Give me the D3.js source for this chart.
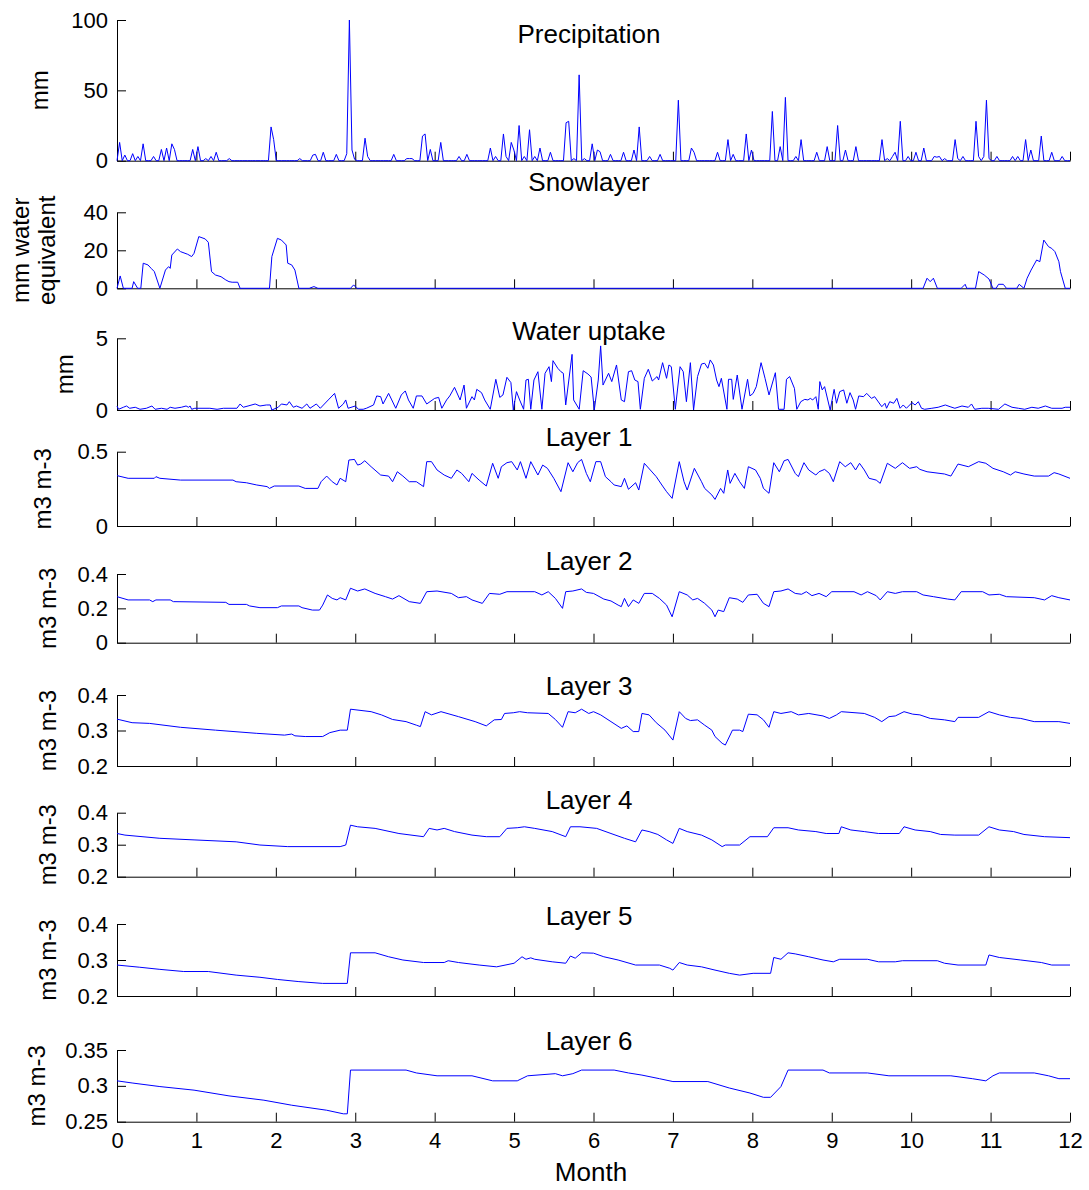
<!DOCTYPE html>
<html>
<head>
<meta charset="utf-8">
<script src="https://cdn.jsdelivr.net/npm/d3@7"></script>
<style>
  body { margin: 0; background: #fff; }
  svg { display: block; font-family: "Liberation Sans", Arial, sans-serif; }
</style>
</head>
<body>
<svg></svg>
<script>
// Figure size.
var width = 1089,
    height = 1190;

var svg = d3.select("svg")
    .attr("width", width)
    .attr("height", height);

// Month ticks along the shared x axis.
var monthTicks = d3.range(0, 13);

// Precipitation: [day of year, mm] for the rainy days, other days are dry.
var rainDays = [
  [1,13],[3,4],[6,5],[8,3],[10,12],[14,3],[17,8],[19,9],[21,12],[22,8],[29,8],[31,10],
  [34,1.5],[36,3],[38,6],[43,1.5],[59,24],[60,15],[70,1.5],[75,4],[76,4.5],[79,6],[84,4.5],
  [88,5],[89,100],[90,7.6],[91,1],[95,16],[96,3],[106,4.5],[111,1.5],[112,1.5],[113,1.5],
  [117,17.5],[118,19],[120,8],[124,13],[131,3],[134,4.5],[143,9],[145,3],[148,19],[149,3],
  [151,13],[152,7.6],[154,25],[156,3],[158,22],[160,3],[162,9],[166,6],[172,27],[173,28],
  [175,1.5],[177,61],[179,1.5],[182,12],[184,7.6],[185,6.4],[189,4.5],[194,6],[198,7.6],
  [200,24],[204,3],[208,4.5],[215,43],[220,9],[221,6],[230,6],[234,15],[236,4.5],[241,19],
  [243,7.6],[251,35],[254,10],[256,45],[260,3],[262,15],[268,6],[272,10],[276,25],[279,7.6],
  [283,10],[293,15],[295,1.5],[297,3],[298,6],[300,28],[303,3],[306,6],[309,9],[313,3],
  [314,2.5],[315,3],[317,1.5],[321,15],[322,1.5],[324,3],[329,28],[330,3],[332,3],[333,43],
  [334,1.5],[337,3],[343,3],[345,3],[348,15],[350,7.6],[354,17.5],[358,6],[362,3]
];

// Snow layer, [month, mm water equivalent].
var snow = [
  [0,0],[0.04,6.5],[0.08,0],[0.19,0],[0.21,3.5],[0.26,0],[0.30,0],[0.33,13.2],[0.39,12.3],
  [0.43,10.5],[0.47,8.8],[0.54,0],[0.61,9.6],[0.65,11.4],[0.67,10.5],[0.69,17.5],[0.76,20.7],
  [0.80,19.3],[0.89,17.9],[0.94,16.7],[0.97,18.4],[1.03,27.2],[1.11,26],[1.15,24.2],
  [1.19,8.8],[1.24,7],[1.31,6.1],[1.37,4.4],[1.41,3.5],[1.45,3.2],[1.52,3.2],[1.55,0],
  [1.92,0],[1.95,16.7],[2.02,26.3],[2.07,25.4],[2.13,22.8],[2.15,13.2],[2.20,12.3],
  [2.24,9.6],[2.29,0],[2.42,0],[2.48,0.9],[2.53,0],[2.94,0],[2.98,1.8],[3.02,0],
  [10.15,0],[10.20,5.3],[10.24,3.5],[10.28,5.3],[10.33,0],[10.63,0],[10.68,2.1],[10.70,0],
  [10.81,0],[10.85,8.8],[10.92,7],[10.98,4.9],[11.03,0],[11.07,0],[11.10,2.1],[11.16,2.1],
  [11.20,0],[11.33,0],[11.36,2.1],[11.42,0],[11.46,5.3],[11.51,9.6],[11.58,14.9],[11.62,14],
  [11.67,25.4],[11.73,21.9],[11.77,21],[11.81,19.3],[11.86,14],[11.88,8.8],[11.94,0],[12,0]
];

// Water uptake, [month, mm].
var uptake = [
  [0,0.28],[0.02,0.05],[0.08,0.19],[0.12,0.28],[0.16,0.12],[0.23,0.19],[0.29,0.05],
  [0.37,0.12],[0.44,0.28],[0.48,0.05],[0.56,0.12],[0.63,0.05],[0.67,0.19],[0.73,0.12],
  [0.81,0.19],[0.87,0.28],[0.90,0.19],[0.92,0.28],[0.94,0.05],[0.98,0.12],[1.17,0.12],
  [1.26,0.05],[1.34,0.12],[1.51,0.12],[1.55,0.42],[1.59,0.19],[1.65,0.28],[1.74,0.42],
  [1.80,0.28],[1.88,0.35],[1.93,0.35],[1.95,0],[2.03,0.19],[2.07,0.42],[2.14,0.35],
  [2.17,0.58],[2.22,0.19],[2.26,0.28],[2.33,0.12],[2.39,0.42],[2.43,0.12],[2.51,0.42],
  [2.56,0.12],[2.66,0.7],[2.74,1.16],[2.79,0.12],[2.85,0.42],[2.88,0.7],[2.91,0.12],
  [3.00,0.28],[3.04,0.05],[3.10,0.05],[3.14,0.12],[3.23,0.35],[3.27,0.98],[3.32,0.93],
  [3.35,0.42],[3.42,1.16],[3.46,0.7],[3.51,0.12],[3.58,1.05],[3.63,1.33],[3.67,0.7],
  [3.73,0.12],[3.77,0.98],[3.84,0.98],[3.90,0.42],[4.00,0.81],[4.05,0.88],[4.09,0.12],
  [4.15,0.7],[4.19,0.98],[4.25,1.58],[4.32,0.7],[4.37,1.74],[4.40,0.12],[4.47,0.93],
  [4.50,0.7],[4.53,1.44],[4.59,1.21],[4.63,0.7],[4.70,0.05],[4.77,2.14],[4.82,0.88],
  [4.86,1.05],[4.91,2.28],[4.96,1.91],[4.99,0],[5.03,1.28],[5.07,0.7],[5.12,0.05],
  [5.15,2.09],[5.18,2.14],[5.21,0.05],[5.25,2.09],[5.30,2.67],[5.35,0.05],[5.39,2.56],
  [5.44,3.02],[5.47,1.98],[5.49,3.44],[5.55,2.91],[5.59,2.67],[5.62,2.56],[5.65,0.35],
  [5.73,3.88],[5.75,0.7],[5.82,0.05],[5.87,2.74],[5.93,2.51],[5.97,2.3],[6.01,0],
  [6.06,2.09],[6.09,4.47],[6.12,1.74],[6.19,2.56],[6.23,1.98],[6.29,3.14],[6.35,0.7],
  [6.39,0.58],[6.44,2.67],[6.48,2.74],[6.52,2.09],[6.56,1.98],[6.59,0.05],[6.64,2.21],
  [6.69,2.84],[6.74,2.02],[6.80,2.33],[6.82,2.09],[6.87,3.3],[6.92,2.21],[6.95,3.14],
  [6.98,3.02],[7.03,0.05],[7.09,3.02],[7.13,2.67],[7.17,0.58],[7.22,3.3],[7.26,0],
  [7.31,2.33],[7.36,3.21],[7.40,3.26],[7.44,2.91],[7.47,3.49],[7.51,3.14],[7.55,2.09],
  [7.58,1.63],[7.61,2.21],[7.68,0.05],[7.70,2.14],[7.74,2.14],[7.76,0.74],[7.81,2.44],
  [7.87,0.05],[7.94,2.14],[7.97,0.98],[8.01,1.16],[8.05,1.63],[8.11,3.3],[8.16,2.21],
  [8.21,1.05],[8.29,2.6],[8.33,0.05],[8.40,0.05],[8.43,2.14],[8.47,2.33],[8.53,1.51],
  [8.56,0.05],[8.61,0.58],[8.66,0.74],[8.70,0.7],[8.73,0.81],[8.76,0.7],[8.80,0.93],
  [8.83,0.05],[8.85,1.98],[8.88,1.4],[8.91,1.63],[8.98,0],[9.03,1.44],[9.06,0.47],
  [9.10,1.28],[9.15,1.4],[9.19,0.47],[9.23,1.21],[9.27,0.7],[9.30,0.05],[9.34,0.98],
  [9.40,0.93],[9.44,1.16],[9.50,0.81],[9.54,0.93],[9.63,0.23],[9.67,0.47],[9.69,0.12],
  [9.73,0.58],[9.78,0.47],[9.82,0.81],[9.86,0.12],[9.90,0.35],[9.94,0.12],[10.01,0.51],
  [10.05,0.35],[10.09,0.58],[10.13,0.12],[10.17,0.05],[10.26,0.12],[10.34,0.19],
  [10.43,0.35],[10.49,0.23],[10.55,0.12],[10.64,0.28],[10.72,0.19],[10.76,0.42],
  [10.80,0.05],[10.89,0.12],[10.97,0.12],[11.10,0.05],[11.18,0.42],[11.27,0.19],
  [11.35,0.12],[11.43,0.05],[11.52,0.19],[11.60,0.12],[11.69,0.28],[11.77,0.12],
  [11.90,0.12],[11.94,0.19],[12,0.19]
];

// Soil moisture per layer, [month, m3 m-3].
var layer1 = [
  [0,0.339],[0.14,0.321],[0.47,0.321],[0.49,0.332],[0.54,0.321],[0.80,0.309],[1.46,0.309],
  [1.50,0.298],[1.63,0.291],[1.76,0.276],[1.89,0.265],[1.92,0.253],[1.98,0.269],[2.29,0.269],
  [2.37,0.253],[2.53,0.253],[2.57,0.298],[2.64,0.336],[2.71,0.298],[2.77,0.276],[2.81,0.321],
  [2.88,0.298],[2.92,0.444],[2.99,0.448],[3.03,0.41],[3.07,0.417],[3.12,0.439],[3.20,0.399],
  [3.32,0.343],[3.42,0.336],[3.47,0.298],[3.53,0.365],[3.60,0.336],[3.68,0.298],[3.77,0.298],
  [3.86,0.265],[3.90,0.433],[3.96,0.433],[4.03,0.377],[4.12,0.343],[4.21,0.321],[4.28,0.377],
  [4.34,0.354],[4.43,0.298],[4.47,0.354],[4.56,0.309],[4.65,0.269],[4.73,0.422],[4.80,0.321],
  [4.84,0.399],[4.91,0.426],[4.97,0.433],[5.04,0.377],[5.08,0.433],[5.15,0.321],[5.21,0.433],
  [5.30,0.343],[5.36,0.41],[5.42,0.388],[5.50,0.321],[5.59,0.231],[5.68,0.426],[5.74,0.365],
  [5.80,0.426],[5.85,0.448],[5.91,0.354],[5.96,0.298],[6.03,0.433],[6.09,0.433],[6.15,0.332],
  [6.22,0.298],[6.26,0.276],[6.35,0.265],[6.39,0.321],[6.44,0.247],[6.53,0.291],[6.57,0.242],
  [6.64,0.422],[6.79,0.332],[6.87,0.269],[6.92,0.231],[6.99,0.186],[7.08,0.433],[7.14,0.298],
  [7.18,0.242],[7.27,0.388],[7.36,0.298],[7.40,0.253],[7.49,0.209],[7.53,0.179],[7.60,0.253],
  [7.64,0.22],[7.69,0.377],[7.72,0.287],[7.78,0.354],[7.84,0.298],[7.90,0.253],[7.95,0.399],
  [8.04,0.377],[8.10,0.321],[8.14,0.253],[8.21,0.22],[8.27,0.426],[8.34,0.365],[8.40,0.439],
  [8.45,0.448],[8.54,0.354],[8.58,0.332],[8.65,0.426],[8.71,0.377],[8.80,0.343],[8.84,0.365],
  [8.91,0.381],[8.97,0.354],[9.02,0.298],[9.10,0.433],[9.17,0.399],[9.24,0.426],[9.30,0.377],
  [9.35,0.422],[9.41,0.377],[9.47,0.321],[9.56,0.309],[9.61,0.287],[9.70,0.422],[9.80,0.388],
  [9.89,0.426],[9.98,0.388],[10.07,0.399],[10.11,0.381],[10.20,0.365],[10.42,0.35],
  [10.50,0.336],[10.59,0.417],[10.72,0.399],[10.85,0.433],[10.94,0.422],[11.03,0.388],
  [11.16,0.365],[11.25,0.343],[11.31,0.365],[11.42,0.35],[11.55,0.336],[11.73,0.336],
  [11.80,0.359],[11.86,0.35],[12,0.321]
];

var layer2 = [
  [0,0.268],[0.14,0.249],[0.41,0.249],[0.45,0.239],[0.49,0.249],[0.67,0.249],[0.71,0.239],
  [1.37,0.235],[1.41,0.223],[1.63,0.223],[1.67,0.214],[1.80,0.204],[2.02,0.204],[2.07,0.214],
  [2.29,0.214],[2.33,0.204],[2.46,0.19],[2.55,0.19],[2.59,0.219],[2.65,0.278],[2.71,0.258],
  [2.77,0.249],[2.81,0.262],[2.88,0.249],[2.94,0.317],[3.03,0.301],[3.12,0.313],[3.25,0.287],
  [3.38,0.268],[3.47,0.254],[3.55,0.274],[3.68,0.239],[3.82,0.229],[3.90,0.297],[4.03,0.301],
  [4.21,0.287],[4.30,0.262],[4.40,0.268],[4.47,0.249],[4.60,0.229],[4.69,0.287],[4.82,0.282],
  [4.91,0.297],[5.26,0.297],[5.35,0.278],[5.43,0.297],[5.52,0.258],[5.61,0.2],[5.65,0.297],
  [5.74,0.301],[5.85,0.313],[5.91,0.293],[6.00,0.287],[6.13,0.254],[6.22,0.243],[6.31,0.219],
  [6.35,0.21],[6.39,0.258],[6.44,0.21],[6.50,0.249],[6.57,0.229],[6.64,0.287],[6.74,0.287],
  [6.83,0.258],[6.92,0.219],[6.99,0.151],[7.08,0.297],[7.18,0.278],[7.25,0.249],[7.31,0.258],
  [7.40,0.229],[7.49,0.19],[7.53,0.151],[7.57,0.19],[7.64,0.181],[7.71,0.262],[7.81,0.254],
  [7.88,0.235],[7.95,0.278],[8.06,0.282],[8.14,0.229],[8.21,0.21],[8.27,0.297],[8.36,0.301],
  [8.45,0.313],[8.54,0.287],[8.62,0.282],[8.68,0.297],[8.75,0.274],[8.84,0.287],[8.93,0.268],
  [9.00,0.297],[9.28,0.297],[9.37,0.278],[9.45,0.297],[9.56,0.274],[9.61,0.249],[9.70,0.297],
  [9.80,0.287],[9.89,0.297],[10.07,0.297],[10.15,0.278],[10.28,0.268],[10.46,0.254],
  [10.55,0.249],[10.63,0.297],[10.90,0.297],[10.98,0.278],[11.11,0.282],[11.20,0.268],
  [11.55,0.262],[11.68,0.249],[11.77,0.274],[11.86,0.262],[12,0.249]
];

var layer3 = [
  [0,0.332],[0.19,0.322],[0.41,0.32],[0.80,0.309],[1.24,0.301],[1.76,0.292],[2.11,0.287],
  [2.20,0.29],[2.24,0.285],[2.37,0.283],[2.59,0.283],[2.68,0.294],[2.81,0.301],[2.90,0.301],
  [2.94,0.36],[3.20,0.353],[3.33,0.344],[3.47,0.331],[3.64,0.325],[3.77,0.315],[3.82,0.311],
  [3.88,0.353],[3.96,0.344],[4.08,0.353],[4.30,0.339],[4.51,0.325],[4.65,0.313],[4.75,0.33],
  [4.84,0.331],[4.88,0.348],[4.99,0.35],[5.07,0.353],[5.17,0.35],[5.43,0.348],[5.52,0.331],
  [5.61,0.309],[5.68,0.353],[5.77,0.35],[5.85,0.36],[5.94,0.348],[6.00,0.353],[6.09,0.344],
  [6.22,0.325],[6.35,0.306],[6.42,0.313],[6.50,0.297],[6.57,0.297],[6.61,0.348],[6.70,0.344],
  [6.79,0.322],[6.90,0.301],[7.00,0.273],[7.08,0.353],[7.16,0.334],[7.22,0.328],[7.31,0.33],
  [7.40,0.315],[7.49,0.301],[7.53,0.283],[7.62,0.264],[7.66,0.259],[7.75,0.301],[7.84,0.301],
  [7.88,0.297],[7.95,0.346],[8.06,0.344],[8.14,0.33],[8.21,0.309],[8.27,0.353],[8.36,0.348],
  [8.49,0.353],[8.58,0.344],[8.71,0.348],[8.89,0.341],[8.97,0.334],[9.06,0.344],[9.12,0.353],
  [9.41,0.348],[9.54,0.337],[9.63,0.325],[9.72,0.339],[9.80,0.341],[9.91,0.353],[10.02,0.346],
  [10.11,0.344],[10.24,0.334],[10.42,0.33],[10.55,0.325],[10.59,0.337],[10.85,0.337],
  [10.98,0.353],[11.11,0.344],[11.25,0.337],[11.38,0.334],[11.55,0.325],[11.86,0.325],
  [12,0.32]
];

var layer4 = [
  [0,0.335],[0.10,0.33],[0.54,0.32],[0.97,0.315],[1.50,0.309],[1.80,0.299],[2.15,0.294],
  [2.81,0.294],[2.88,0.299],[2.94,0.361],[3.03,0.356],[3.25,0.351],[3.55,0.335],[3.86,0.325],
  [3.93,0.351],[4.03,0.346],[4.12,0.351],[4.25,0.341],[4.47,0.33],[4.65,0.325],[4.82,0.325],
  [4.91,0.351],[5.04,0.353],[5.13,0.356],[5.26,0.351],[5.48,0.341],[5.65,0.325],[5.71,0.356],
  [5.83,0.356],[6.04,0.351],[6.22,0.335],[6.39,0.32],[6.53,0.309],[6.61,0.346],[6.70,0.341],
  [6.81,0.332],[6.92,0.315],[7.00,0.304],[7.08,0.351],[7.18,0.341],[7.36,0.33],[7.49,0.315],
  [7.62,0.294],[7.66,0.299],[7.84,0.299],[7.97,0.325],[8.19,0.325],[8.27,0.353],[8.45,0.353],
  [8.58,0.346],[8.80,0.341],[8.93,0.335],[9.09,0.335],[9.12,0.356],[9.24,0.346],[9.41,0.341],
  [9.59,0.335],[9.85,0.335],[9.91,0.356],[10.05,0.346],[10.24,0.341],[10.37,0.332],
  [10.55,0.33],[10.85,0.33],[10.98,0.356],[11.11,0.346],[11.29,0.341],[11.42,0.332],
  [11.68,0.325],[12,0.322]
];

var layer5 = [
  [0,0.286],[0.28,0.28],[0.54,0.274],[0.84,0.268],[1.15,0.268],[1.50,0.258],[1.80,0.252],
  [2.02,0.246],[2.29,0.24],[2.59,0.235],[2.90,0.235],[2.94,0.32],[3.25,0.32],[3.42,0.309],
  [3.60,0.3],[3.86,0.293],[4.12,0.293],[4.17,0.298],[4.30,0.293],[4.56,0.286],[4.78,0.281],
  [5.00,0.291],[5.10,0.309],[5.15,0.302],[5.21,0.306],[5.26,0.302],[5.48,0.295],[5.65,0.291],
  [5.71,0.311],[5.77,0.305],[5.85,0.32],[6.00,0.319],[6.13,0.309],[6.31,0.3],[6.53,0.286],
  [6.83,0.286],[6.96,0.277],[7.00,0.272],[7.08,0.293],[7.18,0.286],[7.36,0.281],[7.53,0.272],
  [7.71,0.263],[7.84,0.258],[8.01,0.263],[8.23,0.263],[8.27,0.307],[8.36,0.302],[8.45,0.32],
  [8.54,0.317],[8.71,0.309],[8.89,0.3],[9.02,0.295],[9.10,0.302],[9.45,0.302],[9.59,0.295],
  [9.80,0.295],[9.89,0.298],[10.33,0.298],[10.42,0.291],[10.59,0.286],[10.94,0.286],
  [10.98,0.314],[11.11,0.307],[11.38,0.3],[11.64,0.293],[11.77,0.286],[12,0.286]
];

var layer6 = [
  [0,0.307],[0.19,0.304],[0.54,0.299],[0.97,0.294],[1.41,0.286],[1.85,0.28],[2.20,0.273],
  [2.64,0.266],[2.85,0.261],[2.90,0.261],[2.94,0.322],[3.64,0.322],[3.77,0.318],[4.03,0.314],
  [4.47,0.314],[4.73,0.307],[5.04,0.307],[5.17,0.314],[5.52,0.317],[5.61,0.314],[5.74,0.317],
  [5.85,0.322],[6.26,0.322],[6.44,0.318],[6.61,0.315],[6.83,0.31],[7.00,0.306],[7.44,0.306],
  [7.71,0.297],[7.97,0.29],[8.14,0.284],[8.23,0.284],[8.36,0.299],[8.45,0.322],[8.89,0.322],
  [8.97,0.318],[9.45,0.318],[9.72,0.314],[10.50,0.314],[10.77,0.31],[10.94,0.307],
  [11.03,0.314],[11.11,0.318],[11.55,0.318],[11.73,0.314],[11.86,0.31],[12,0.31]
];

// Build the daily rain series: dry days read as 0 on the picture.
var rainByDay = new Map(rainDays);
var precip = d3.range(0, 366).map(function (d) {
  return [d * 12 / 365, rainByDay.get(d) || 0];
});

// Panels: pixel extents of each axes box, its y range and text.
var X0 = 117, X1 = 1070;
var panels = [
  { title: "Precipitation", data: precip, top: 20, bottom: 160.7, domain: [0, 100],
    ticks: [0, 50, 100], label: [["mm", 48]], titleY: 43 },
  { title: "Snowlayer", data: snow, top: 212.3, bottom: 288.3, domain: [0, 40],
    ticks: [0, 20, 40], label: [["mm water", 29], ["equivalent", 55]], titleY: 191 },
  { title: "Water uptake", data: uptake, top: 338.3, bottom: 410, domain: [0, 5],
    ticks: [0, 5], label: [["mm", 73]], titleY: 340 },
  { title: "Layer 1", data: layer1, top: 451.7, bottom: 526, domain: [0, 0.5],
    ticks: [0, 0.5], label: [["m3 m-3", 51]], titleY: 446 },
  { title: "Layer 2", data: layer2, top: 574, bottom: 642.7, domain: [0, 0.4],
    ticks: [0, 0.2, 0.4], label: [["m3 m-3", 56]], titleY: 570 },
  { title: "Layer 3", data: layer3, top: 695, bottom: 766, domain: [0.2, 0.4],
    ticks: [0.2, 0.3, 0.4], label: [["m3 m-3", 56]], titleY: 695 },
  { title: "Layer 4", data: layer4, top: 812.7, bottom: 876.7, domain: [0.2, 0.4],
    ticks: [0.2, 0.3, 0.4], label: [["m3 m-3", 56]], titleY: 809 },
  { title: "Layer 5", data: layer5, top: 924, bottom: 996, domain: [0.2, 0.4],
    ticks: [0.2, 0.3, 0.4], label: [["m3 m-3", 56]], titleY: 925 },
  { title: "Layer 6", data: layer6, top: 1050, bottom: 1121.7, domain: [0.25, 0.35],
    ticks: [0.25, 0.3, 0.35], label: [["m3 m-3", 45]], titleY: 1050 }
];

var x = d3.scaleLinear().domain([0, 12]).range([X0, X1]);

panels.forEach(function (p, i) {
  var last = i === panels.length - 1;
  var y = d3.scaleLinear().domain(p.domain).range([p.bottom, p.top]);
  var g = svg.append("g");

  // Left axis, ticks pointing inward.
  g.append("g")
      .attr("transform", "translate(" + X0 + ",0)")
      .call(d3.axisLeft(y).tickValues(p.ticks).tickSize(-9).tickSizeOuter(0)
        .tickPadding(9).tickFormat(function (d) { return String(d); }))
      .call(function (a) {
        a.selectAll("text").attr("font-size", 22).attr("fill", "#000");
        a.selectAll("line, path").attr("stroke", "#000");
      });

  // Bottom axis, month ticks pointing up; labels only on the last panel.
  g.append("g")
      .attr("transform", "translate(0," + p.bottom + ")")
      .call(d3.axisBottom(x).tickValues(monthTicks).tickSize(-9).tickSizeOuter(0)
        .tickPadding(11).tickFormat(last ? d3.format("d") : ""))
      .call(function (a) {
        a.selectAll("text").attr("font-size", 22).attr("fill", "#000");
        a.selectAll("line, path").attr("stroke", "#000");
      });

  var line = d3.line()
      .x(function (d) { return x(d[0]); })
      .y(function (d) { return y(d[1]); });

  g.append("path")
      .datum(p.data)
      .attr("fill", "none")
      .attr("stroke", "#0000ff")
      .attr("stroke-width", 1)
      .attr("d", line);

  g.append("text")
      .attr("x", 589)
      .attr("y", p.titleY)
      .attr("text-anchor", "middle")
      .attr("font-size", 26)
      .text(p.title);

  var cy = (p.top + p.bottom) / 2;
  p.label.forEach(function (l) {
    g.append("text")
        .attr("transform", "translate(" + l[1] + "," + cy + ") rotate(-90)")
        .attr("text-anchor", "middle")
        .attr("font-size", 24)
        .text(l[0]);
  });
});

svg.append("text")
    .attr("x", 591)
    .attr("y", 1181)
    .attr("text-anchor", "middle")
    .attr("font-size", 26)
    .text("Month");
</script>
</body>
</html>
